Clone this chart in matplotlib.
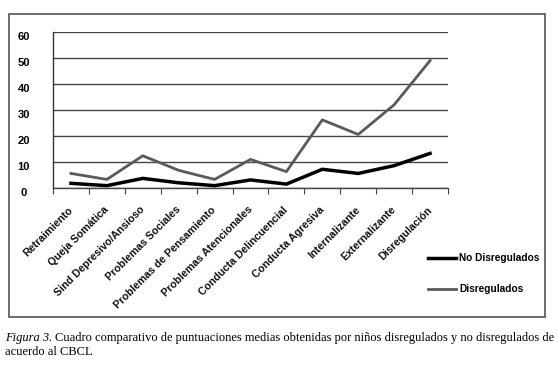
import matplotlib
matplotlib.use("Agg")
import matplotlib.pyplot as plt
from matplotlib.patches import Rectangle
import matplotlib.transforms as mtransforms

categories = ["Retraimiento", "Queja Somática", "Sind Depresivo/Ansioso",
              "Problemas Sociales", "Problemas de Pensamiento",
              "Problemas Atencionales", "Conducta Delincuencial",
              "Conducta Agresiva", "Internalizante", "Externalizante",
              "Disregulación"]
no_disregulados = [1.8, 0.9, 3.7, 2.0, 0.9, 3.1, 1.5, 7.2, 5.6, 8.6, 13.3]
disregulados = [5.6, 3.3, 12.4, 6.8, 3.3, 11.0, 6.3, 26.2, 20.6, 32.0, 49.0]
y_ticks = [0, 10, 20, 30, 40, 50, 60]

W, H = 558, 368
fig = plt.figure(figsize=(W / 100, H / 100), dpi=100)
fig.patch.set_facecolor("white")

# outer frame
fig.patches.append(Rectangle((9 / W, 1 - 317 / H), (545 - 9) / W, (317 - 14) / H,
                             transform=fig.transFigure, fill=False,
                             edgecolor="#555555", linewidth=1.2))

ax = fig.add_axes([53 / W, 1 - 188 / H, (448 - 53) / W, (188 - 32) / H])
x = list(range(len(categories)))
ax.plot(x, no_disregulados, color="black", linewidth=2.5, label="No Disregulados")
ax.plot(x, disregulados, color="#5a5a5a", linewidth=2.0, label="Disregulados")

ax.set_xlim(-0.5, len(categories) - 0.5)
ax.set_ylim(0, 60)
ax.set_yticks(y_ticks)
ax.yaxis.grid(True, color="#444444", linewidth=1.0)
ax.set_axisbelow(True)
for s in ["top", "right"]:
    ax.spines[s].set_visible(False)
ax.spines["left"].set_color("#333333")
ax.spines["bottom"].set_color("#444444")
ax.spines["left"].set_linewidth(1.0)
ax.spines["bottom"].set_linewidth(1.0)

ax.set_yticklabels([str(v) for v in y_ticks], fontsize=8, fontweight="bold",
                   family="Liberation Sans")
ax.tick_params(axis="y", length=0, pad=21)
off = mtransforms.ScaledTranslation(0, -4 / 100, fig.dpi_scale_trans)
for lab in ax.get_yticklabels():
    lab.set_horizontalalignment("center")
    lab.set_transform(lab.get_transform() + off)

ax.set_xticks([i - 0.5 for i in range(len(categories) + 1)], minor=False)
ax.set_xticklabels([])
ax.tick_params(axis="x", direction="out", length=4, color="#444444")
for i, c in enumerate(categories):
    ax.annotate(c, xy=(i, 0), xycoords="data", xytext=(-2.5, -12),
                textcoords="offset points", rotation=45, ha="right", va="top",
                rotation_mode="anchor", fontsize=7.7, fontweight="bold",
                family="Liberation Sans", color="#111111")

leg = fig.legend(loc="upper left", bbox_to_anchor=(419 / W, 1 - 244 / H),
                 frameon=False, prop={"family": "Liberation Sans", "weight": "bold", "size": 7.3},
                 handlelength=2.7, labelspacing=2.1, handletextpad=0.35)

fs = 9.2
t1 = fig.text(5 / W, 1 - 338 / H, "Figura 3.", fontsize=fs, style="italic",
              family="Liberation Serif", va="center")
t2 = fig.text(55 / W, 1 - 338 / H,
              "Cuadro comparativo de puntuaciones medias obtenidas por niños disregulados y no disregulados de",
              fontsize=fs, family="Liberation Serif", va="center")
t3 = fig.text(5 / W, 1 - 352 / H, "acuerdo al CBCL", fontsize=fs,
              family="Liberation Serif", va="center")
# fit caption line width to the reference width (55..553 px)
r = fig.canvas.get_renderer()
wpx = t2.get_window_extent(r).width
scale = 498 / wpx
for t in (t1, t2, t3):
    t.set_fontsize(fs * scale)

fig.savefig("out.png", dpi=100)
